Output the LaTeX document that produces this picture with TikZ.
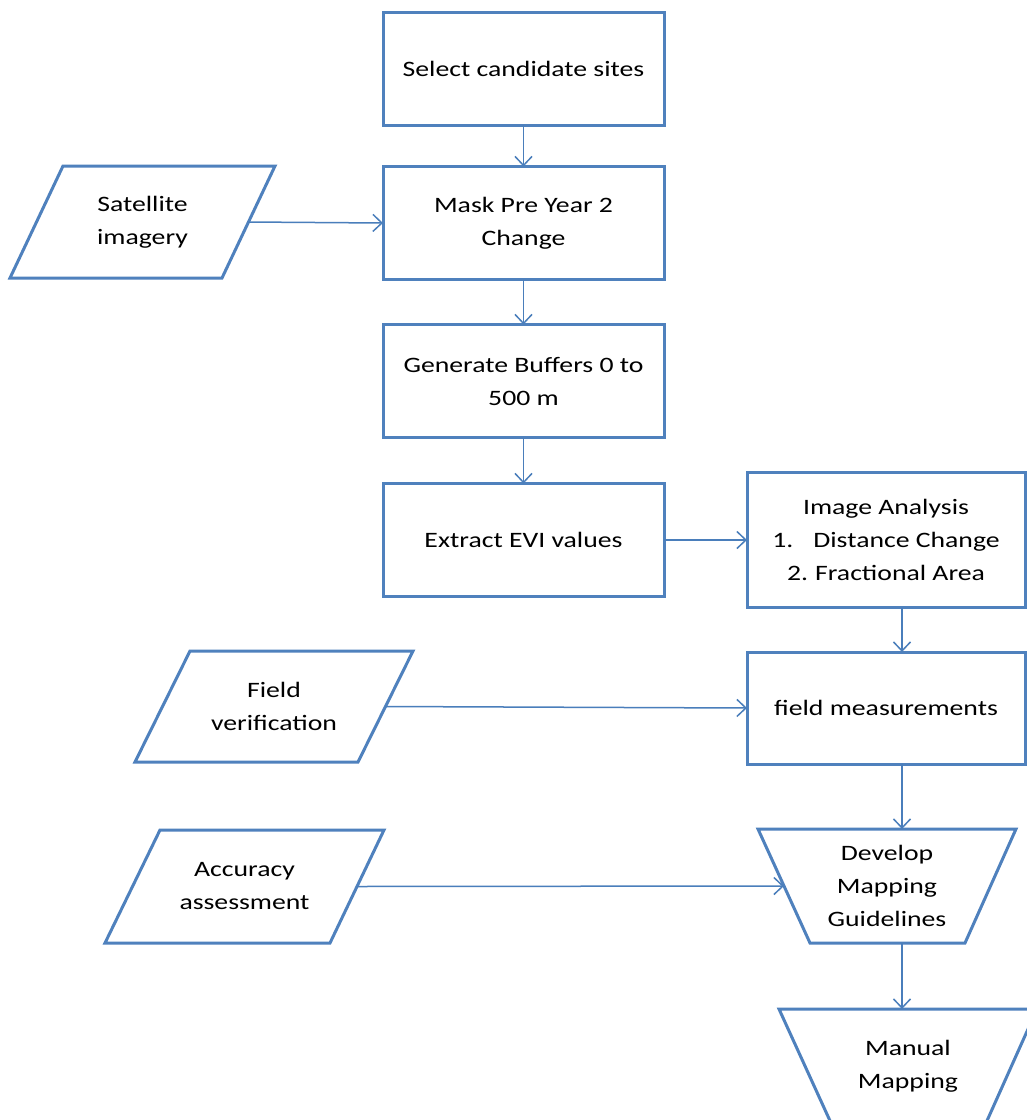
\documentclass[tikz,border=0pt]{standalone}
\usepackage{fontspec}
\setmainfont{Carlito}[FakeStretch=1.26]
\usetikzlibrary{arrows.meta}
\definecolor{boxblue}{HTML}{4F81BD}
\definecolor{arrowblue}{HTML}{4A7EBB}
\begin{document}
\begin{tikzpicture}[x=1pt,y=-1pt,
  every node/.style={font=\fontsize{22}{33}\selectfont, text=black, align=center, inner sep=0pt, outer sep=0pt},
  procbox/.style={draw=boxblue, line width=3pt, fill=white, rectangle, minimum width=281pt, minimum height=113pt},
  shapeline/.style={draw=boxblue, line width=3pt, fill=white, line join=miter},
  conn/.style={draw=arrowblue, line width=1.5pt, -{Straight Barb[length=9pt,width=17pt,line width=1.5pt]}}
]
\clip (0,0) rectangle (1027,1120);
\fill[white] (0,0) rectangle (1027,1120);
\coordinate (ax) at (902,0);
% main column
\node[procbox] (select) at (523.5,68.5) {Select candidate sites};
\node[procbox] (mask) at (523.5,223) {Mask Pre Year 2\\Change};
\node[procbox] (buffers) at (523.5,381) {Generate Buffers 0 to\\500 m};
\node[procbox] (extract) at (523.5,540) {Extract EVI values};
% right column
\node[procbox, minimum width=278pt, minimum height=135pt] (analysis) at (886,540) {Image Analysis\\1.\hspace{20pt}Distance Change\\2.\hspace{7pt}Fractional Area};
\node[procbox, minimum width=278pt, minimum height=112pt] (fieldm) at (886,708) {field measurements};
% trapezoids (manual operation)
\draw[shapeline] (758,829) -- (1016,829) -- (965,943) -- (810,943) -- cycle;
\node (develop) at (887,886) {Develop\\Mapping\\Guidelines};
\coordinate (develop-n) at (887,829);
\coordinate (develop-s) at (887,943);
\coordinate (develop-w) at (784,886);
\draw[shapeline] (779,1009) -- (1037,1009) -- (986,1123) -- (831,1123) -- cycle;
\node (manual) at (908,1066) {Manual\\Mapping};
\coordinate (manual-n) at (908,1009);
% inputs (parallelograms)
\draw[shapeline] (63,166) -- (275,166) -- (222,278) -- (10,278) -- cycle;
\node (sat) at (142.5,222) {Satellite\\imagery};
\coordinate (sat-e) at (248.5,222);
\draw[shapeline] (190,651) -- (413,651) -- (358,762) -- (135,762) -- cycle;
\node (field) at (274,706.5) {Field\\verification};
\coordinate (field-e) at (385.5,706.5);
\draw[shapeline] (160,830) -- (384,830) -- (330,943) -- (105,943) -- cycle;
\node (acc) at (244.5,886.5) {Accuracy\\assessment};
\coordinate (acc-e) at (357,886.5);
% connectors
\draw[conn] (select) -- (mask);
\draw[conn] (mask) -- (buffers);
\draw[conn] (buffers) -- (extract);
\draw[conn] (sat-e) -- (mask.west);
\draw[conn] (extract.east) -- (analysis.west);
\draw[conn] (analysis.south -| ax) -- (fieldm.north -| ax);
\draw[conn] (field-e) -- (fieldm.west);
\draw[conn] (fieldm.south -| ax) -- (develop-n -| ax);
\draw[conn] (acc-e) -- (develop-w);
\draw[conn] (develop-s -| ax) -- (manual-n -| ax);
\end{tikzpicture}
\end{document}
